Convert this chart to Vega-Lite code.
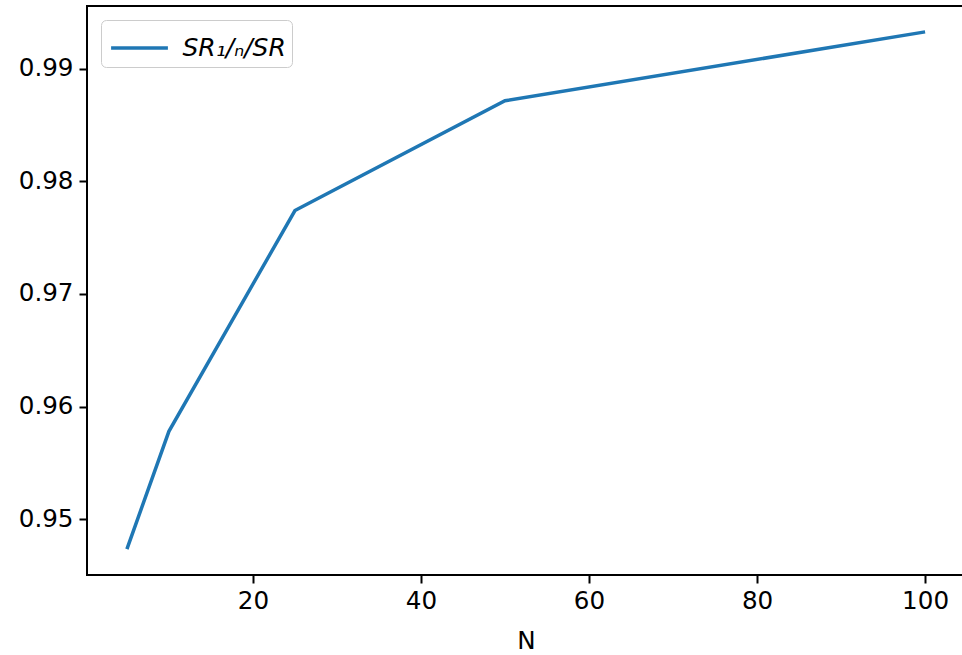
{
  "$schema": "https://vega.github.io/schema/vega-lite/v6.json",
  "width": 878,
  "height": 569,
  "autosize": "none",
  "padding": {"left": 87, "top": 6, "right": 0, "bottom": 80},
  "background": "white",
  "config": {
    "font": "DejaVu Sans",
    "view": {"stroke": "black", "strokeWidth": 2}
  },
  "data": {
    "values": [
      {"N": 5, "ratio": 0.94734, "series": "SR₁/ₙ/SR"},
      {"N": 10, "ratio": 0.95780, "series": "SR₁/ₙ/SR"},
      {"N": 25, "ratio": 0.97741, "series": "SR₁/ₙ/SR"},
      {"N": 50, "ratio": 0.98716, "series": "SR₁/ₙ/SR"},
      {"N": 100, "ratio": 0.99328, "series": "SR₁/ₙ/SR"}
    ]
  },
  "mark": {"type": "line", "strokeWidth": 3.5},
  "encoding": {
    "x": {
      "field": "N",
      "type": "quantitative",
      "scale": {"domain": [0.25, 104.75], "nice": false, "zero": false},
      "axis": {
        "title": "N",
        "values": [20, 40, 60, 80, 100],
        "grid": false,
        "domain": false,
        "tickColor": "black",
        "tickWidth": 2,
        "tickSize": 8,
        "labelFontSize": 24.6,
        "labelColor": "black",
        "labelPadding": 6,
        "titleFontSize": 24.6,
        "titleFontWeight": "normal",
        "titleColor": "black",
        "titlePadding": 17
      }
    },
    "y": {
      "field": "ratio",
      "type": "quantitative",
      "scale": {"domain": [0.94504, 0.99558], "nice": false, "zero": false},
      "axis": {
        "title": null,
        "values": [0.95, 0.96, 0.97, 0.98, 0.99],
        "format": ".2f",
        "grid": false,
        "domain": false,
        "tickColor": "black",
        "tickWidth": 2,
        "tickSize": 8,
        "labelFontSize": 24.6,
        "labelColor": "black",
        "labelPadding": 6
      }
    },
    "color": {
      "field": "series",
      "type": "nominal",
      "scale": {"range": ["#1f77b4"]},
      "legend": {
        "title": null,
        "orient": "top-left",
        "offset": 13.5,
        "padding": 6,
        "fillColor": "white",
        "strokeColor": "#cccccc",
        "cornerRadius": 5,
        "symbolType": "M-1.42,0H1.42",
        "symbolSize": 1600,
        "symbolStrokeWidth": 3.5,
        "symbolOffset": 10.5,
        "labelFontSize": 25,
        "labelFontStyle": "italic",
        "labelColor": "black",
        "labelOffset": 21
      }
    }
  }
}
